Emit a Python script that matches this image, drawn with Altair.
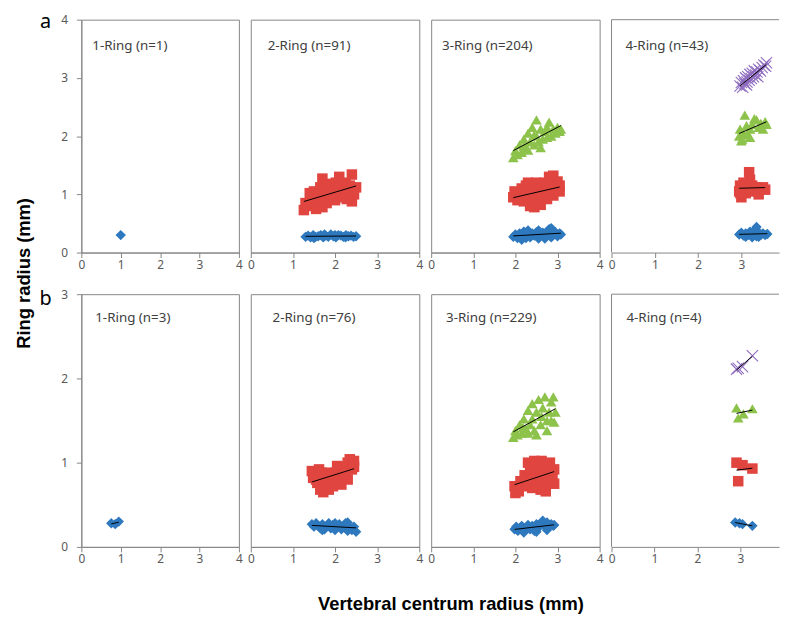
import altair as alt
import pandas as pd

# ---------------- data ----------------
RINGS = ["Ring 1", "Ring 2", "Ring 3", "Ring 4"]
X_TICKS = [0, 1, 2, 3, 4]
X_TICKS_CUT = [0, 1, 2, 3]
Y_TICKS_A = [0, 1, 2, 3, 4]
Y_TICKS_B = [0, 1, 2, 3]
LABELS_A = ["1-Ring (n=1)", "2-Ring (n=91)", "3-Ring (n=204)", "4-Ring (n=43)"]
LABELS_B = ["1-Ring (n=3)", "2-Ring (n=76)", "3-Ring (n=229)", "4-Ring (n=4)"]

# ---- row a ----
A1_R1_X = [1.00]
A1_R1_Y = [0.30]

A2_R1_X = [1.30, 1.36, 1.42, 1.48, 1.54, 1.60, 1.66, 1.72, 1.78, 1.84, 1.90, 1.96, 2.02,
           2.08, 2.14, 2.20, 2.26, 2.32, 2.38, 2.44, 2.50, 1.50, 1.75, 2.00, 2.25]
A2_R1_Y = [0.27, 0.29, 0.26, 0.30, 0.27, 0.28, 0.30, 0.26, 0.29, 0.27, 0.31, 0.28, 0.26,
           0.30, 0.29, 0.27, 0.30, 0.28, 0.29, 0.27, 0.28, 0.25, 0.31, 0.30, 0.26]
A2_R2_X = [1.26, 1.30, 1.38, 1.42, 1.50, 1.50, 1.58, 1.60, 1.65, 1.70, 1.72, 1.78, 1.80, 1.85,
           1.90, 1.95, 2.00, 2.02, 2.10, 2.10, 2.15, 2.20, 2.25, 2.30, 2.35, 2.40, 2.40, 2.45,
           2.50, 1.55, 2.28, 1.70, 1.40, 1.88, 2.05]
A2_R2_Y = [0.73, 0.85, 0.80, 0.95, 0.88, 1.05, 0.98, 0.82, 1.12, 1.27, 0.95, 1.05, 0.85, 1.18,
           0.98, 1.10, 0.90, 1.20, 1.30, 1.02, 1.12, 0.95, 1.20, 1.05, 1.15, 1.34, 0.88, 1.00,
           1.12, 0.75, 0.92, 0.78, 1.02, 1.05, 1.10]

A3_R1_X = [1.95, 2.00, 2.05, 2.10, 2.15, 2.20, 2.25, 2.30, 2.35, 2.40, 2.45, 2.50, 2.55, 2.60,
           2.65, 2.70, 2.75, 2.80, 2.85, 2.90, 2.95, 3.00, 3.05, 3.08, 2.25, 2.55, 2.85, 2.15, 2.70]
A3_R1_Y = [0.27, 0.31, 0.25, 0.33, 0.28, 0.36, 0.30, 0.38, 0.26, 0.33, 0.29, 0.35, 0.24, 0.31,
           0.34, 0.28, 0.36, 0.40, 0.42, 0.30, 0.35, 0.28, 0.33, 0.31, 0.25, 0.38, 0.26, 0.22, 0.24]
A3_R2_X = [1.95, 1.98, 2.05, 2.10, 2.15, 2.20, 2.25, 2.30, 2.35, 2.40, 2.45, 2.50, 2.50, 2.55,
           2.60, 2.65, 2.70, 2.75, 2.80, 2.85, 2.90, 2.90, 2.95, 3.00, 3.05, 3.05, 2.30, 2.60,
           2.40, 2.75, 2.20]
A3_R2_Y = [0.95, 1.05, 0.90, 1.00, 1.10, 0.88, 1.15, 0.95, 0.80, 1.05, 0.78, 1.00, 1.20, 0.90,
           1.10, 0.98, 1.20, 1.05, 1.30, 1.15, 1.32, 0.98, 1.10, 1.22, 1.05, 1.15, 1.20, 0.82,
           0.92, 0.92, 1.02]
A3_R3_X = [1.95, 2.00, 2.05, 2.10, 2.15, 2.20, 2.25, 2.30, 2.35, 2.40, 2.45, 2.50, 2.50, 2.55,
           2.60, 2.65, 2.70, 2.75, 2.80, 2.85, 2.90, 2.95, 3.00, 3.05, 3.08, 2.30, 2.60, 2.45,
           2.75, 2.20]
A3_R3_Y = [1.63, 1.75, 1.68, 1.85, 1.72, 1.95, 1.80, 2.05, 1.90, 2.15, 1.85, 2.28, 2.00, 1.90,
           2.12, 1.95, 2.08, 2.15, 2.24, 2.00, 2.12, 2.05, 2.15, 2.08, 2.12, 1.76, 1.80, 2.02,
           1.98, 1.82]

A4_R1_X = [2.95, 3.00, 3.05, 3.10, 3.15, 3.20, 3.25, 3.30, 3.35, 3.35, 3.40, 3.45, 3.50, 3.55,
           3.60, 3.10, 3.25, 3.40]
A4_R1_Y = [0.31, 0.34, 0.29, 0.33, 0.30, 0.36, 0.31, 0.38, 0.44, 0.28, 0.35, 0.30, 0.33, 0.30,
           0.32, 0.27, 0.26, 0.27]
A4_R2_X = [2.95, 2.97, 3.00, 3.05, 3.10, 3.15, 3.18, 3.20, 3.22, 3.25, 3.30, 3.35, 3.40, 3.45,
           3.50, 3.55, 3.05, 2.98]
A4_R2_Y = [1.05, 1.15, 0.95, 1.10, 1.02, 1.15, 1.38, 1.25, 1.08, 1.15, 1.05, 1.12, 1.00, 1.10,
           1.12, 1.08, 1.20, 1.02]
A4_R3_X = [2.95, 2.97, 3.00, 3.05, 3.08, 3.12, 3.15, 3.20, 3.25, 3.30, 3.35, 3.40, 3.45, 3.50,
           3.55, 3.58, 3.02, 3.20]
A4_R3_Y = [2.00, 2.12, 1.92, 2.05, 2.36, 2.18, 2.02, 2.12, 2.20, 2.30, 2.28, 2.15, 2.22, 2.12,
           2.25, 2.20, 1.95, 1.98]
A4_R4_X = [2.97, 3.00, 3.03, 3.05, 3.08, 3.10, 3.13, 3.15, 3.18, 3.20, 3.23, 3.25, 3.28, 3.30,
           3.33, 3.36, 3.40, 3.44, 3.48, 3.52, 3.56, 3.58, 3.12, 3.38]
A4_R4_Y = [2.86, 2.92, 2.84, 2.95, 2.90, 3.00, 2.93, 3.02, 2.96, 3.06, 2.99, 3.08, 3.02, 3.12,
           3.05, 3.10, 3.15, 3.12, 3.18, 3.22, 3.20, 3.26, 2.88, 3.02]

# ---- row b ----
B1_R1_X = [0.76, 0.86, 0.95]
B1_R1_Y = [0.28, 0.27, 0.30]

B2_R1_X = [1.45, 1.50, 1.55, 1.60, 1.65, 1.70, 1.75, 1.80, 1.85, 1.90, 1.95, 2.00, 2.05, 2.10,
           2.15, 2.20, 2.25, 2.30, 2.35, 2.40, 2.45, 2.50, 1.70, 2.00, 2.30]
B2_R1_Y = [0.27, 0.24, 0.28, 0.25, 0.22, 0.27, 0.21, 0.25, 0.28, 0.22, 0.26, 0.20, 0.24, 0.27,
           0.21, 0.25, 0.28, 0.29, 0.23, 0.20, 0.24, 0.18, 0.20, 0.28, 0.19]
B2_R2_X = [1.45, 1.48, 1.55, 1.58, 1.62, 1.65, 1.70, 1.72, 1.78, 1.80, 1.85, 1.90, 1.95, 2.00,
           2.05, 2.05, 2.10, 2.15, 2.20, 2.25, 2.30, 2.35, 2.40, 2.45, 2.45, 2.30, 1.55, 1.95,
           2.15, 1.68]
B2_R2_Y = [0.90, 0.82, 0.88, 0.76, 0.92, 0.68, 0.82, 0.65, 0.75, 0.88, 0.68, 0.80, 0.72, 0.88,
           0.96, 0.80, 0.90, 0.82, 0.95, 0.88, 1.00, 1.04, 0.92, 1.02, 0.95, 0.80, 0.80, 0.86,
           0.74, 0.88]

B3_R1_X = [1.98, 2.02, 2.06, 2.10, 2.15, 2.20, 2.25, 2.30, 2.35, 2.40, 2.45, 2.50, 2.55, 2.60,
           2.65, 2.70, 2.75, 2.80, 2.85, 2.90, 2.92, 2.20, 2.50, 2.75]
B3_R1_Y = [0.21, 0.24, 0.19, 0.22, 0.25, 0.20, 0.23, 0.26, 0.21, 0.25, 0.19, 0.27, 0.23, 0.28,
           0.31, 0.25, 0.29, 0.24, 0.27, 0.25, 0.26, 0.17, 0.18, 0.20]
B3_R2_X = [1.98, 2.00, 2.05, 2.08, 2.12, 2.18, 2.22, 2.28, 2.30, 2.35, 2.40, 2.45, 2.50, 2.55,
           2.60, 2.62, 2.65, 2.70, 2.72, 2.78, 2.82, 2.88, 2.92, 2.92, 2.40, 2.60, 2.50, 2.75,
           2.35]
B3_R2_Y = [0.72, 0.64, 0.70, 0.66, 0.78, 0.72, 0.85, 0.75, 1.00, 0.90, 0.78, 1.02, 0.88, 0.98,
           0.68, 1.02, 0.85, 0.95, 0.66, 0.90, 1.00, 0.82, 0.92, 0.75, 0.70, 0.80, 0.76, 0.78,
           0.80]
B3_R3_X = [1.95, 2.00, 2.05, 2.10, 2.15, 2.20, 2.25, 2.30, 2.35, 2.40, 2.45, 2.50, 2.55, 2.60,
           2.65, 2.70, 2.75, 2.80, 2.85, 2.90, 2.92, 2.95, 2.50, 2.30, 2.75, 2.40, 2.62, 2.85,
           2.18]
B3_R3_Y = [1.30, 1.38, 1.33, 1.45, 1.35, 1.52, 1.40, 1.62, 1.45, 1.70, 1.38, 1.60, 1.75, 1.45,
           1.65, 1.78, 1.38, 1.60, 1.72, 1.78, 1.48, 1.60, 1.33, 1.35, 1.50, 1.52, 1.55, 1.50,
           1.42]

B4_R1_X = [2.88, 2.98, 3.05, 3.28]
B4_R1_Y = [0.29, 0.28, 0.27, 0.25]
B4_R2_X = [2.91, 3.05, 3.28, 2.95]
B4_R2_Y = [1.00, 0.97, 0.93, 0.78]
B4_R3_X = [2.91, 2.95, 3.07, 3.28]
B4_R3_Y = [1.65, 1.53, 1.58, 1.64]
B4_R4_X = [2.91, 3.05, 2.95, 3.28]
B4_R4_Y = [2.11, 2.14, 2.12, 2.27]

# ---------------- styling ----------------
BLUE, RED, GREEN, PURPLE = "#2E78BE", "#E0453F", "#8DC24B", "#8E6BBF"
FRAME = "#868686"
TICK_FONT = "Noto Sans"
TITLE_FONT = "Liberation Sans"
SHAPES = ["diamond", "square", "triangle-up"]
SIZES = [110, 115, 150]
XPATH = "M-1,-1L1,1M-1,1L1,-1"


def make_df(series):
    rows = []
    for ring, xs, ys in series:
        for x, y in zip(xs, ys):
            rows.append({"x": x, "y": y, "ring": ring})
    return pd.DataFrame(rows, columns=["x", "y", "ring"])


def panel(series, label, w, h, xmax, xticks, ymax, yticks, show_y, lab_dx, lab_dy,
          open_right=False, extras=()):
    df = make_df(series)
    xenc = alt.X("x:Q", scale=alt.Scale(domain=[0, xmax], nice=False, zero=False),
                 axis=alt.Axis(values=xticks, title=None, format="d", labelFlush=False))
    yax = alt.Axis(values=yticks, title=None, format="d") if show_y else None
    yenc = alt.Y("y:Q", scale=alt.Scale(domain=[0, ymax], nice=False, zero=False), axis=yax)

    layers = []
    filled = df[df.ring != "Ring 4"]
    layers.append(alt.Chart(filled).mark_point(filled=True, opacity=1).encode(
        x=xenc, y=yenc,
        shape=alt.Shape("ring:N", scale=alt.Scale(domain=RINGS[:3], range=SHAPES), legend=None),
        color=alt.Color("ring:N", scale=alt.Scale(domain=RINGS[:3], range=[BLUE, RED, GREEN]),
                        legend=None),
        size=alt.Size("ring:N", scale=alt.Scale(domain=RINGS[:3], range=SIZES), legend=None),
    ))
    cross = df[df.ring == "Ring 4"]
    if len(cross):
        layers.append(alt.Chart(cross).mark_point(
            filled=False, shape=XPATH, size=130, strokeWidth=1.1, color=PURPLE, opacity=1
        ).encode(x=xenc, y=yenc))
    counts = df.groupby("ring")["x"].transform("count")
    reg = df[counts >= 2]
    if len(reg):
        layers.append(alt.Chart(reg).transform_regression(
            "x", "y", groupby=["ring"]
        ).mark_line(color="black", strokeWidth=1).encode(x=xenc, y=yenc, detail="ring:N"))
    layers.append(alt.Chart(pd.DataFrame({"t": [label]})).mark_text(
        align="left", baseline="middle", font=TICK_FONT, fontSize=13.5, color="#404040"
    ).encode(x=alt.value(lab_dx), y=alt.value(lab_dy), text="t:N"))
    for txt, dx, dy, size, bold, angle, font in extras:
        kw = dict(align="center", baseline="middle", font=font, fontSize=size, color="black")
        if bold:
            kw["fontWeight"] = "bold"
        if angle:
            kw["angle"] = angle
        layers.append(alt.Chart(pd.DataFrame({"t": [txt]})).mark_text(**kw).encode(
            x=alt.value(dx), y=alt.value(dy), text="t:N"))
    if open_right:
        b = pd.DataFrame({"k": [0]})
        layers.append(alt.Chart(b).mark_rule(color=FRAME, strokeWidth=1).encode(
            x=alt.value(0), x2=alt.value(w), y=alt.value(0)))
        layers.append(alt.Chart(b).mark_rule(color=FRAME, strokeWidth=1).encode(
            x=alt.value(0), y=alt.value(0), y2=alt.value(h)))
    ch = alt.layer(*layers).properties(width=w, height=h)
    if open_right:
        ch = ch.properties(view=alt.ViewBackground(stroke="transparent"))
    return ch


HA, HB = 235, 255
W = [159, 170, 170, 169]
panels = [
    panel([("Ring 1", A1_R1_X, A1_R1_Y)], LABELS_A[0], W[0], HA, 4, X_TICKS, 4, Y_TICKS_A,
          True, 11, 27,
          extras=[("a", -36, 2, 20, False, 0, TICK_FONT),
                  ("Ring radius (mm)", -58, 256, 18.5, True, 270, TITLE_FONT)]),
    panel([("Ring 1", A2_R1_X, A2_R1_Y), ("Ring 2", A2_R2_X, A2_R2_Y)], LABELS_A[1],
          W[1], HA, 4, X_TICKS, 4, Y_TICKS_A, False, 17, 27),
    panel([("Ring 1", A3_R1_X, A3_R1_Y), ("Ring 2", A3_R2_X, A3_R2_Y),
           ("Ring 3", A3_R3_X, A3_R3_Y)], LABELS_A[2],
          W[2], HA, 4, X_TICKS, 4, Y_TICKS_A, False, 11, 27),
    panel([("Ring 1", A4_R1_X, A4_R1_Y), ("Ring 2", A4_R2_X, A4_R2_Y),
           ("Ring 3", A4_R3_X, A4_R3_Y), ("Ring 4", A4_R4_X, A4_R4_Y)], LABELS_A[3],
          W[3], HA, 3.87, X_TICKS_CUT, 4, Y_TICKS_A, False, 14, 27, open_right=True),
    panel([("Ring 1", B1_R1_X, B1_R1_Y)], LABELS_B[0], W[0], HB, 4, X_TICKS, 3, Y_TICKS_B,
          True, 14, 24,
          extras=[("b", -36, 5, 20, False, 0, TICK_FONT)]),
    panel([("Ring 1", B2_R1_X, B2_R1_Y), ("Ring 2", B2_R2_X, B2_R2_Y)], LABELS_B[1],
          W[1], HB, 4, X_TICKS, 3, Y_TICKS_B, False, 22, 24,
          extras=[("Vertebral centrum radius (mm)", 202, 313, 18.5, True, 0, TITLE_FONT)]),
    panel([("Ring 1", B3_R1_X, B3_R1_Y), ("Ring 2", B3_R2_X, B3_R2_Y),
           ("Ring 3", B3_R3_X, B3_R3_Y)], LABELS_B[2],
          W[2], HB, 4, X_TICKS, 3, Y_TICKS_B, False, 15, 24),
    panel([("Ring 1", B4_R1_X, B4_R1_Y), ("Ring 2", B4_R2_X, B4_R2_Y),
           ("Ring 3", B4_R3_X, B4_R3_Y), ("Ring 4", B4_R4_X, B4_R4_Y)], LABELS_B[3],
          W[3], HB, 3.9, X_TICKS_CUT, 3, Y_TICKS_B, False, 15, 24, open_right=True),
]

chart = alt.concat(
    *panels, columns=4, spacing={"row": 42, "column": 12}, bounds="flush", align="each"
).properties(
    padding={"left": 6, "top": 0, "right": 0, "bottom": 4}
).configure_axis(
    labelFont=TICK_FONT, labelFontSize=12, labelColor="#595959",
    domainColor=FRAME, tickColor=FRAME, tickSize=5, grid=False, labelPadding=2,
).configure_axisY(labelPadding=9).configure_view(stroke=FRAME, strokeWidth=1)

chart.save("out.html", embed_options={"renderer": "svg", "actions": False})
